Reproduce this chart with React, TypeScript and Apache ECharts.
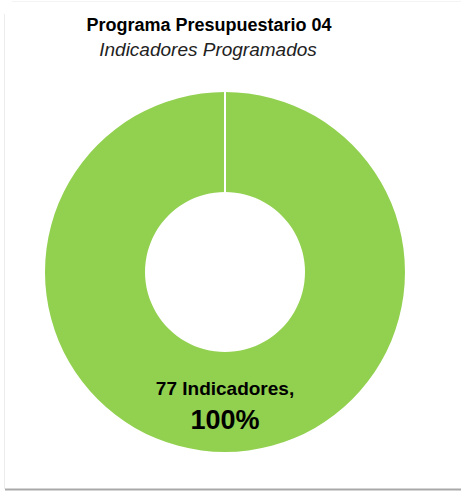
import React, { useEffect, useRef } from "react";
import * as echarts from "echarts";

const titleText = "Programa Presupuestario 04";
const subtitleText = "Indicadores Programados";
const categories = ["Indicadores"];
const values = [77];
const percents = ["100%"];

export default function App() {
  const ref = useRef<HTMLDivElement>(null);
  useEffect(() => {
    if (!ref.current) return;
    const chart = echarts.init(ref.current, null, { renderer: "svg" });
    const font = "'Liberation Sans Narrow', 'Liberation Sans', Arial, sans-serif";
    chart.setOption({
      animation: false,
      backgroundColor: "#ffffff",
      title: [
        {
          text: titleText,
          left: 204,
          top: 11,
          textAlign: "center",
          textStyle: { fontFamily: font, fontWeight: "bold", fontSize: 18, color: "#000" },
        },
        {
          text: subtitleText,
          left: 203,
          top: 35,
          textAlign: "center",
          textStyle: { fontFamily: font, fontStyle: "italic", fontWeight: "normal", fontSize: 19, color: "#222" },
        },
      ],
      series: [
        {
          type: "pie",
          center: [225, 272],
          radius: [80, 180],
          startAngle: 90,
          clockwise: true,
          silent: true,
          itemStyle: { color: "#92D050" },
          label: {
            show: true,
            position: "inside",
            fontFamily: font,
            formatter: (p: any) => `{a|${p.value} ${p.name},}\n{b|${percents[p.dataIndex]}}`,
            rich: {
              a: { fontFamily: font, fontWeight: "bold", fontSize: 19, color: "#000", lineHeight: 30 },
              b: { fontFamily: font, fontWeight: "bold", fontSize: 27, color: "#000", lineHeight: 34 },
            },
          },
          labelLine: { show: false },
          data: categories.map((c, i) => ({ name: c, value: values[i] })),
        },
      ],
      graphic: [
        {
          type: "line",
          z: 100,
          shape: { x1: 225, y1: 90, x2: 225, y2: 193 },
          style: { stroke: "#ffffff", lineWidth: 2 },
        },
        {
          type: "line",
          z: 100,
          shape: { x1: 4.5, y1: 14, x2: 4.5, y2: 489 },
          style: { stroke: "#ececec", lineWidth: 1 },
        },
        {
          type: "line",
          z: 100,
          shape: { x1: 12, y1: 1.5, x2: 461, y2: 1.5 },
          style: { stroke: "#f4f4f4", lineWidth: 1 },
        },
        {
          type: "line",
          z: 100,
          shape: { x1: 5, y1: 489.5, x2: 461, y2: 489.5 },
          style: { stroke: "#a9a9a9", lineWidth: 2 },
        },
      ],
    });
    return () => chart.dispose();
  }, []);
  return (
    <div
      ref={ref}
      style={{ position: "fixed", left: 0, top: 0, width: 461, height: 491 }}
    />
  );
}
